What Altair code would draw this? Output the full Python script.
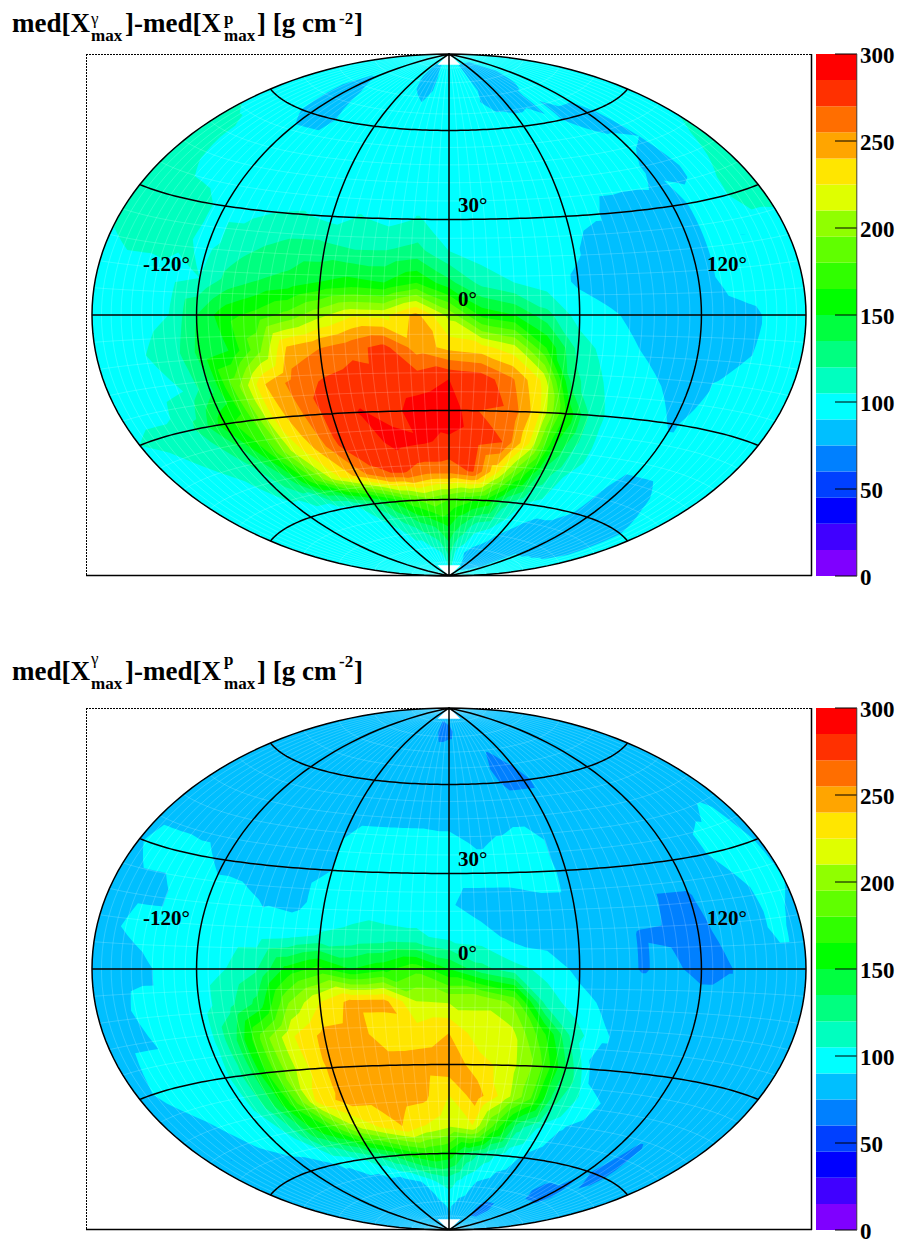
import math
import altair as alt

LONS = [-180 + 15 * i for i in range(25)]
LATS = [90, 80, 70, 60, 50, 40, 30, 20, 10, 0, -10, -20, -30, -40, -50, -60, -70, -80, -90]
PALETTE = ["#7F00FF", "#4000FF", "#0000FF", "#0040FF", "#0080FF", "#00BFFF", "#00FFFF", "#00FFBF",
           "#00FF80", "#00FF40", "#00FF00", "#30FF00", "#60FF00", "#90FF00", "#DFFF00", "#FFE600",
           "#FFA500", "#FF6E00", "#FF3000", "#FF0000"]
LEVELS = [15 * i for i in range(20)]
TICKS = [0, 50, 100, 150, 200, 250, 300]

# Upper panel, values along each parallel (lon -180 ... 180)
T90 = [97] * 25
T80 = [97] * 9 + [82, 82] + [97] * 4 + [82] * 4 + [90] + [97] * 5
T70 = [97, 97, 97, 90, 82, 90, 97, 97, 97, 97, 90, 97, 97, 97, 92, 85, 82, 85, 92, 97, 97, 97, 97, 97, 97]
T60 = [97, 97, 97, 92, 85, 85, 92, 97, 97, 97, 97, 97, 97, 97, 97, 97, 97, 97, 92, 85, 85, 95, 97, 97, 97]
T50 = [112, 108, 100, 97, 97, 97, 97, 97, 97, 97, 97, 97, 97, 97, 97, 97, 97, 97, 97, 97, 92, 90, 97, 100, 105]
T40 = [112, 112, 100, 97, 97] + [97] * 15 + [88, 85, 97, 105, 112]
T30 = [108, 112, 112, 110, 100, 100, 105, 106, 100, 106, 100, 106, 97, 97, 97, 97, 97, 92, 82, 80, 82, 95, 100, 112, 115]
T20 = [105, 112, 112, 108, 100, 112, 120, 125, 125, 120, 120, 125, 105, 97, 97, 97, 92, 82, 82, 82, 82, 95, 97, 97, 97]
T10 = [97, 97, 97, 100, 105, 125, 135, 140, 150, 155, 150, 165, 140, 115, 105, 97, 88, 82, 82, 82, 82, 95, 97, 97, 97]
T0 = [97, 97, 100, 105, 135, 160, 170, 185, 205, 222, 220, 245, 205, 160, 150, 125, 97, 92, 85, 82, 82, 85, 88, 97, 97]
Tm10 = [97, 97, 105, 112, 140, 150, 190, 245, 255, 265, 275, 248, 235, 230, 215, 165, 115, 97, 90, 82, 82, 85, 90, 97, 97]
Tm20 = [97, 97, 100, 105, 130, 190, 240, 262, 272, 278, 275, 278, 285, 280, 258, 222, 125, 105, 97, 90, 82, 92, 97, 97, 97]
Tm30 = [105, 108, 108, 125, 160, 175, 232, 255, 278, 286, 280, 292, 296, 270, 268, 232, 165, 110, 97, 97, 88, 97, 97, 97, 97]
Tm40 = [97, 100, 105, 112, 125, 165, 215, 245, 275, 278, 290, 287, 282, 275, 270, 225, 150, 112, 97, 97, 97, 97, 97, 97, 97]
Tm50 = [97, 97, 97, 100, 112, 130, 175, 220, 245, 268, 272, 262, 262, 272, 230, 180, 130, 105, 97, 92, 85, 85, 92, 97, 97]
Tm60 = [97] * 7 + [105, 125, 150, 175, 190, 180, 170, 160, 125, 105, 97, 97, 90, 82, 82, 85, 90, 97]
Tm70 = [97] * 8 + [100, 112, 125, 135, 150, 130, 110, 105, 92, 85, 80, 78, 78, 82, 85, 90, 97]
Tm80 = [97] * 11 + [105, 125, 100, 90, 82, 75, 75, 80, 85] + [97] * 5
Tm90 = [97] * 25
TOP = [T90, T80, T70, T60, T50, T40, T30, T20, T10, T0, Tm10, Tm20, Tm30, Tm40, Tm50, Tm60, Tm70, Tm80, Tm90]

# Lower panel
B90 = [82] * 25
B80 = [82] * 11 + [70, 72, 78] + [82] * 11
B70 = [82] * 14 + [78, 74, 78] + [82] * 8
B60 = [82] * 15 + [72, 72, 80] + [82] * 7
B50 = [82] * 25
B40 = [82] * 8 + [90, 97, 97, 97, 95, 88, 92, 97, 85, 82, 82, 82, 82, 82, 88, 92, 85]
B30 = [88, 97, 97, 95, 85, 82, 82, 85, 90, 97, 97, 97, 97, 97, 97, 100, 85, 82, 82, 82, 82, 82, 100, 97, 88]
B20 = [82, 85, 85, 97, 97, 97, 88, 85, 97, 100, 97, 97, 92, 82, 82, 85, 85, 85, 82, 74, 74, 82, 82, 100, 90]
B10 = [82, 90, 97, 97, 97, 97, 97, 100, 106, 108, 110, 108, 100, 97, 85, 82, 82, 82, 74, 73, 70, 80, 82, 95, 82]
B0 = [82, 82, 85, 97, 97, 105, 118, 155, 170, 150, 160, 175, 150, 125, 110, 100, 85, 82, 74, 78, 70, 74, 82, 82, 82]
Bm10 = [82, 85, 97, 97, 97, 115, 140, 195, 225, 245, 245, 210, 208, 208, 190, 112, 97, 85, 82, 82, 82, 82, 82, 82, 82]
Bm20 = [82, 90, 90, 97, 97, 135, 190, 225, 245, 248, 230, 232, 240, 215, 215, 170, 112, 92, 82, 82, 82, 82, 82, 82, 82]
Bm30 = [85, 92, 90, 97, 100, 130, 185, 220, 245, 250, 248, 248, 250, 232, 218, 190, 135, 82, 82, 82, 82, 82, 82, 82, 82]
Bm40 = [82, 85, 90, 97, 97, 125, 170, 228, 245, 245, 248, 245, 225, 248, 220, 185, 125, 100, 88, 82, 82, 82, 82, 82, 82]
Bm50 = [82, 82, 82, 90, 97, 105, 140, 165, 205, 225, 240, 225, 215, 225, 175, 125, 100, 88, 82, 80, 78, 74, 80, 82, 82]
Bm60 = [82, 82, 82, 82, 82, 85, 92, 100, 115, 135, 155, 165, 160, 130, 112, 97, 88, 82, 82, 80, 76, 72, 80, 82, 82]
Bm70 = [82] * 10 + [90, 105, 112, 100, 90, 85, 82, 82, 78, 72, 72, 78, 82, 82, 82]
Bm80 = [82] * 11 + [85, 92, 85, 82, 82, 72, 72, 78] + [82] * 6
Bm90 = [82] * 25
BOTTOM = [B90, B80, B70, B60, B50, B40, B30, B20, B10, B0, Bm10, Bm20, Bm30, Bm40, Bm50, Bm60, Bm70, Bm80, Bm90]

A, B = 357.0, 261.0          # half axes of the drawn ellipse
CX, CY = 441, 307            # ellipse centre of the upper panel
SERIF = "Liberation Serif"
PROJ = dict(type="identity", reflectY=True, scale=1, translate=[CX, CY])
COLOR = alt.Scale(domain=list(range(20)), range=PALETTE)


def hammer(lon, lat, off):
    p, l = math.radians(lat), math.radians(lon) / 2
    z = math.sqrt(1 + math.cos(p) * math.cos(l))
    return [round(A * math.cos(p) * math.sin(l) / z, 2), round(B * math.sin(p) / z - off, 2)]


def clip(tri, level):
    out = []
    for i in range(len(tri)):
        a, b = tri[i], tri[(i + 1) % len(tri)]
        ina, inb = a[2] >= level, b[2] >= level
        if ina:
            out.append(a)
        if ina != inb:
            t = (level - a[2]) / (b[2] - a[2])
            out.append((a[0] + t * (b[0] - a[0]), a[1] + t * (b[1] - a[1]), level))
    return out


def ring(poly, off, n=3):
    pts = []
    for i in range(len(poly)):
        a, b = poly[i], poly[(i + 1) % len(poly)]
        for k in range(n):
            t = k / n
            pts.append(hammer(a[0] + t * (b[0] - a[0]), a[1] + t * (b[1] - a[1]), off))
    area = sum(pts[i][0] * pts[(i + 1) % len(pts)][1] - pts[(i + 1) % len(pts)][0] * pts[i][1]
               for i in range(len(pts)))
    if abs(area) < 1e-6:
        return None
    if area < 0:
        pts.reverse()
    pts.append(pts[0])
    return pts


def bands(rows, off):
    feats = []
    tris = []
    for r in range(len(LATS) - 1):
        for c in range(len(LONS) - 1):
            p = [(LONS[c], LATS[r], rows[r][c]), (LONS[c + 1], LATS[r], rows[r][c + 1]),
                 (LONS[c + 1], LATS[r + 1], rows[r + 1][c + 1]), (LONS[c], LATS[r + 1], rows[r + 1][c])]
            tris.append([p[0], p[1], p[2]])
            tris.append([p[0], p[2], p[3]])
    for k, level in enumerate(LEVELS):
        polys = []
        for t in tris:
            if max(v[2] for v in t) < level:
                continue
            q = clip(t, level) if min(v[2] for v in t) < level else t
            if len(q) >= 3:
                rg = ring(q, off)
                if rg:
                    polys.append([rg])
        if polys:
            feats.append({"type": "Feature", "properties": {"band": k},
                          "geometry": {"type": "MultiPolygon", "coordinates": polys}})
    return feats


def lines(meridians, parallels, off):
    segs = []
    for m in meridians:
        segs.append([hammer(m, -90 + 2 * i, off) for i in range(91)])
    for p in parallels:
        segs.append([hammer(-180 + 3 * i, p, off) for i in range(121)])
    return {"type": "Feature", "properties": {}, "geometry": {"type": "MultiLineString", "coordinates": segs}}


def wedges(off):
    polys = []
    for s in (1, -1):
        polys.append([ring([(-45, 85 * s, 0), (45, 85 * s, 0), (0, 90 * s, 0)], off, 1)])
    return {"type": "Feature", "properties": {}, "geometry": {"type": "MultiPolygon", "coordinates": polys}}


def text(s, x, y, size, weight="bold", baseline="alphabetic"):
    return alt.Chart(alt.Data(values=[{"t": s}])).mark_text(
        font=SERIF, fontSize=size, fontWeight=weight, align="left", baseline=baseline, color="black"
    ).encode(x=alt.value(x), y=alt.value(y), text="t:N")


def rule(x, x2, y, y2, width=1.0, dash=None, color="black"):
    kw = {"strokeDash": dash} if dash else {}
    return alt.Chart(alt.Data(values=[{"a": 0}])).mark_rule(color=color, strokeWidth=width, **kw).encode(
        x=alt.value(x), x2=alt.value(x2), y=alt.value(y), y2=alt.value(y2))


def panel(rows, off, main_y, sub_y, sup_gamma, sup_p, sup_exp):
    cont = alt.Chart(alt.Data(values=bands(rows, off))).mark_geoshape(strokeWidth=0).encode(
        color=alt.Color("properties.band:O", scale=COLOR, legend=None)).project(**PROJ)
    faint = alt.Chart(alt.Data(values=[lines([-180 + 6 * i for i in range(61)], [-84 + 6 * i for i in range(29)], off)])
                      ).mark_geoshape(filled=False, stroke="white", strokeWidth=0.6, strokeOpacity=0.3).project(**PROJ)
    gap = alt.Chart(alt.Data(values=[wedges(off)])).mark_geoshape(fill="white", strokeWidth=0).project(**PROJ)
    grid = alt.Chart(alt.Data(values=[lines([-180, -120, -60, 0, 60, 120, 180], [-60, -30, 0, 30, 60], off)])
                     ).mark_geoshape(filled=False, stroke="black", strokeWidth=1.5).project(**PROJ)

    yrange = [568 + off, 46 + off]
    bar = alt.Chart(alt.Data(values=[{"lo": l, "hi": l + 15, "band": k} for k, l in enumerate(LEVELS)])).mark_rect().encode(
        x=alt.value(808), x2=alt.value(849),
        y=alt.Y("lo:Q", scale=alt.Scale(domain=[0, 300], range=yrange), axis=None), y2="hi:Q",
        color=alt.Color("band:O", scale=COLOR, legend=None))
    tickdata = alt.Data(values=[{"v": t} for t in TICKS])
    yt = alt.Y("v:Q", scale=alt.Scale(domain=[0, 300], range=yrange), axis=None)
    ticks = alt.Chart(tickdata).mark_rule(color="black", strokeWidth=1).encode(x=alt.value(827), x2=alt.value(849), y=yt)
    ticklabs = alt.Chart(tickdata).mark_text(font=SERIF, fontSize=23, fontWeight="bold", align="left", baseline="middle",
                                             color="black", dy=2).encode(x=alt.value(852), y=yt, text="v:Q")
    return [
        cont, faint, gap, grid,
        rule(78, 804, 46.5 + off, 46.5 + off, 1, [2, 1]), rule(78.5, 78.5, 46 + off, 568 + off, 1, [2, 1]),
        rule(78, 804, 567.5 + off, 567.5 + off, 1.5), rule(803.5, 803.5, 46 + off, 568 + off, 1.5),
        bar, ticks, rule(848.8, 848.8, 46 + off, 568 + off, 1, color="#444444"), ticklabs,
        text("30°", 450, 198 + off, 21, baseline="middle"), text("0°", 450, 292 + off, 21, baseline="middle"),
        text("-120°", 135, 257 + off, 21, baseline="middle"), text("120°", 699, 257 + off, 21, baseline="middle"),
        text("med[X", 4, main_y, 27), text("γ", 83, sup_gamma, 17, "normal"), text("max", 83, sub_y, 17),
        text("]-med[X", 117, main_y, 27), text("p", 216, sup_p, 17), text("max", 216, sub_y, 17),
        text("] [g cm", 249, main_y, 27), text("-2", 331, sup_exp, 17), text("]", 346, main_y, 27),
    ]


layers = panel(TOP, 0, 24, 33, 16, 16, 16) + panel(BOTTOM, 654, 672, 681, 656, 657, 659)
chart = alt.layer(*layers).resolve_scale(y="independent").properties(
    width=887, height=1234, padding=0, autosize=alt.AutoSizeParams(type="none")
).configure_view(stroke=None)
chart.save("out.html", embed_options={"renderer": "svg", "actions": False})
